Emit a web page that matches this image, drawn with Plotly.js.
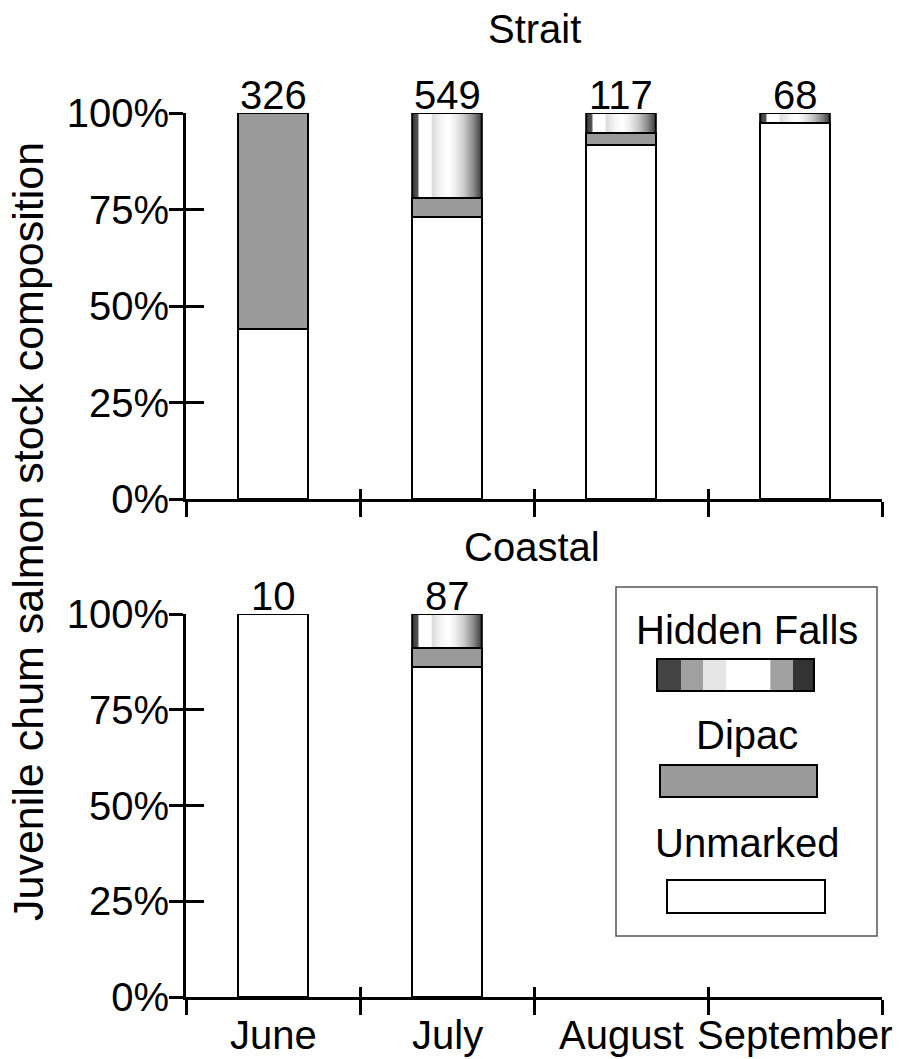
<!DOCTYPE html>
<html>
<head>
<meta charset="utf-8">
<script src="https://cdn.plot.ly/plotly-3.0.1.min.js"></script>
<style>html,body{margin:0;padding:0;background:#fff;}#chart{width:902px;height:1059px;}</style>
</head>
<body>
<div id="chart"></div>
<script>
// ---- data ----
const months = ['June', 'July', 'August', 'September'];
const straitN = [326, 549, 117, 68];
const straitUnmarked = [44, 73, 91.7, 97.4];
const straitDipac = [56, 5, 3.1, 0];
const straitHidden = [0, 22, 5.2, 2.6];
const coastalN = [10, 87, null, null];
const coastalUnmarked = [100, 86.2, null, null];
const coastalDipac = [0, 4.9, null, null];
const coastalHidden = [0, 8.9, null, null];
const yTickVals = [0, 25, 50, 75, 100];
const yTickText = ['0%', '25%', '50%', '75%', '100%'];
const legendLabels = ['Hidden Falls', 'Dipac', 'Unmarked'];

// ---- style ----
const W = 902, H = 1059;
const FONT = 'Liberation Sans, Arial, Helvetica, sans-serif';
const BAR_W = 0.4;
const DIPAC = '#9a9a9a';
const HF_SCALE = [[0, '#3a3a3a'], [0.08, '#555555'], [0.1, '#ffffff'], [0.27, '#ffffff'], [0.29, '#dcdcdc'],
  [0.42, '#f6f6f6'], [0.52, '#ffffff'], [0.62, '#eeeeee'], [0.75, '#c8c8c8'], [0.88, '#8a8a8a'], [1, '#3a3a3a']];
const HF_STEPS = ['#444444', '#a0a0a0', '#e6e6e6', '#ffffff', '#a0a0a0', '#333333'];
const HF_STEP_W = [72, 66, 70, 132, 68, 64];
const px = v => v / W, py = v => 1 - v / H;
const idx = months.map((m, i) => i);

function panel(xa, ya, unmarked, dipac, hidden) {
  const tr = [];
  tr.push({type: 'bar', x: idx, y: unmarked, width: BAR_W, xaxis: xa, yaxis: ya,
    marker: {color: '#ffffff', line: {color: '#000', width: 2}}, hoverinfo: 'skip', showlegend: false});
  tr.push({type: 'bar', x: idx, y: dipac, width: BAR_W, xaxis: xa, yaxis: ya,
    marker: {color: DIPAC, line: {color: '#000', width: 2}}, hoverinfo: 'skip', showlegend: false});
  idx.forEach(i => {
    if (hidden[i] == null || hidden[i] <= 0) return;
    const b = unmarked[i] + dipac[i], t = b + hidden[i];
    const l = i - BAR_W / 2, r = i + BAR_W / 2;
    tr.push({type: 'scatter', mode: 'lines', xaxis: xa, yaxis: ya, x: [l, r, r, l, l], y: [b, b, t, t, b],
      fill: 'toself', fillgradient: {type: 'horizontal', colorscale: HF_SCALE},
      line: {color: '#000', width: 2}, hoverinfo: 'skip', showlegend: false});
  });
  return tr;
}

const traces = [].concat(
  panel('x', 'y', straitUnmarked, straitDipac, straitHidden),
  panel('x2', 'y2', coastalUnmarked, coastalDipac, coastalHidden),
  [{type: 'scatter', x: [null], y: [null], xaxis: 'x3', yaxis: 'y3', hoverinfo: 'skip', showlegend: false},
   {type: 'scatter', x: [null], y: [null], xaxis: 'x4', yaxis: 'y4', hoverinfo: 'skip', showlegend: false}]
);

const xDom = [px(186), px(882)];
const topDom = [py(499), py(113)];
const botDom = [py(997), py(614)];
const bounds = [-0.5, 0.5, 1.5, 2.5, 3.5];

function xMain(anchor, lw) {
  return {domain: xDom, anchor: anchor, range: [-0.5, 3.5], fixedrange: true, showgrid: false, zeroline: false,
    showline: true, linecolor: '#000', linewidth: lw, tickmode: 'array', tickvals: bounds,
    ticks: 'outside', ticklen: 15, tickwidth: 3, tickcolor: '#000', showticklabels: false};
}
function xOver(over, anchor) {
  return {domain: xDom, overlaying: over, anchor: anchor, range: [-0.5, 3.5], fixedrange: true, showgrid: false,
    zeroline: false, showline: false, tickmode: 'array', tickvals: bounds, ticks: 'inside', ticklen: 10,
    tickwidth: 3, tickcolor: '#000', showticklabels: false};
}
function yMain(dom, anchor) {
  return {domain: dom, anchor: anchor, range: [0, 100], fixedrange: true, showgrid: false, zeroline: false,
    showline: true, linecolor: '#000', linewidth: 3, tickmode: 'array', tickvals: yTickVals, ticktext: yTickText,
    ticks: 'outside', ticklen: 14, tickwidth: 3, tickcolor: '#000', ticklabelstandoff: -8,
    tickfont: {family: FONT, size: 40, color: '#000'}};
}
function yOver(over, anchor) {
  return {overlaying: over, anchor: anchor, range: [0, 100], fixedrange: true, showgrid: false, zeroline: false,
    showline: false, tickmode: 'array', tickvals: yTickVals, ticks: 'inside', ticklen: 18, tickwidth: 3,
    tickcolor: '#000', showticklabels: false};
}

const annotations = [];
const tf = s => ({family: FONT, size: s, color: '#000'});
straitN.forEach((n, i) => { if (n != null) annotations.push({xref: 'x', yref: 'y', x: i, y: 100, text: String(n),
  showarrow: false, xanchor: 'center', yanchor: 'bottom', yshift: -6, font: tf(40)}); });
coastalN.forEach((n, i) => { if (n != null) annotations.push({xref: 'x2', yref: 'y2', x: i, y: 100, text: String(n),
  showarrow: false, xanchor: 'center', yanchor: 'bottom', yshift: -6, font: tf(40)}); });
months.forEach((m, i) => annotations.push({xref: 'x2', yref: 'paper', x: i, y: py(1035), text: m,
  showarrow: false, xanchor: 'center', yanchor: 'middle', font: tf(40)}));
annotations.push({xref: 'paper', yref: 'paper', x: px(534), y: py(29), text: 'Strait', showarrow: false,
  xanchor: 'center', yanchor: 'middle', font: tf(40)});
annotations.push({xref: 'paper', yref: 'paper', x: px(532), y: py(547), text: 'Coastal', showarrow: false,
  xanchor: 'center', yanchor: 'middle', font: tf(40)});
annotations.push({xref: 'paper', yref: 'paper', x: px(28), y: py(532), text: 'Juvenile chum salmon stock composition',
  showarrow: false, textangle: -90, xanchor: 'center', yanchor: 'middle', font: tf(43)});
// legend texts
const legTextY = [630, 735, 843];
legendLabels.forEach((t, k) => annotations.push({xref: 'paper', yref: 'paper', x: px(747), y: py(legTextY[k]),
  text: t, showarrow: false, xanchor: 'center', yanchor: 'middle', font: tf(40)}));

const shapes = [];
shapes.push({type: 'rect', xref: 'paper', yref: 'paper', x0: px(616), x1: px(877), y0: py(587), y1: py(936),
  line: {color: '#555', width: 1.5}, fillcolor: 'rgba(0,0,0,0)'});
let cx = 657;
HF_STEPS.forEach((c, k) => {
  const w = HF_STEP_W[k] / 3;
  shapes.push({type: 'rect', xref: 'paper', yref: 'paper', x0: px(cx), x1: px(cx + w), y0: py(691), y1: py(659),
    line: {width: 0}, fillcolor: c});
  cx += w;
});
shapes.push({type: 'rect', xref: 'paper', yref: 'paper', x0: px(657), x1: px(814), y0: py(691), y1: py(659),
  line: {color: '#000', width: 2}, fillcolor: 'rgba(0,0,0,0)'});
shapes.push({type: 'rect', xref: 'paper', yref: 'paper', x0: px(660), x1: px(817), y0: py(797), y1: py(765),
  line: {color: '#000', width: 2}, fillcolor: DIPAC});
shapes.push({type: 'rect', xref: 'paper', yref: 'paper', x0: px(667), x1: px(825), y0: py(913), y1: py(880),
  line: {color: '#000', width: 2}, fillcolor: '#fff'});

const layout = {
  width: W, height: H, margin: {l: 0, r: 0, t: 0, b: 0, autoexpand: false},
  paper_bgcolor: '#fff', plot_bgcolor: 'rgba(0,0,0,0)', barmode: 'stack', bargap: 0,
  showlegend: false, font: {family: FONT, color: '#000'},
  xaxis: xMain('y', 3), yaxis: yMain(topDom, 'x'),
  xaxis2: xMain('y2', 2.5), yaxis2: yMain(botDom, 'x2'),
  xaxis3: xOver('x', 'y3'), yaxis3: yOver('y', 'x3'),
  xaxis4: xOver('x2', 'y4'), yaxis4: yOver('y2', 'x4'),
  annotations: annotations, shapes: shapes
};

Plotly.newPlot('chart', traces, layout, {staticPlot: true, displayModeBar: false});
</script>
</body>
</html>
